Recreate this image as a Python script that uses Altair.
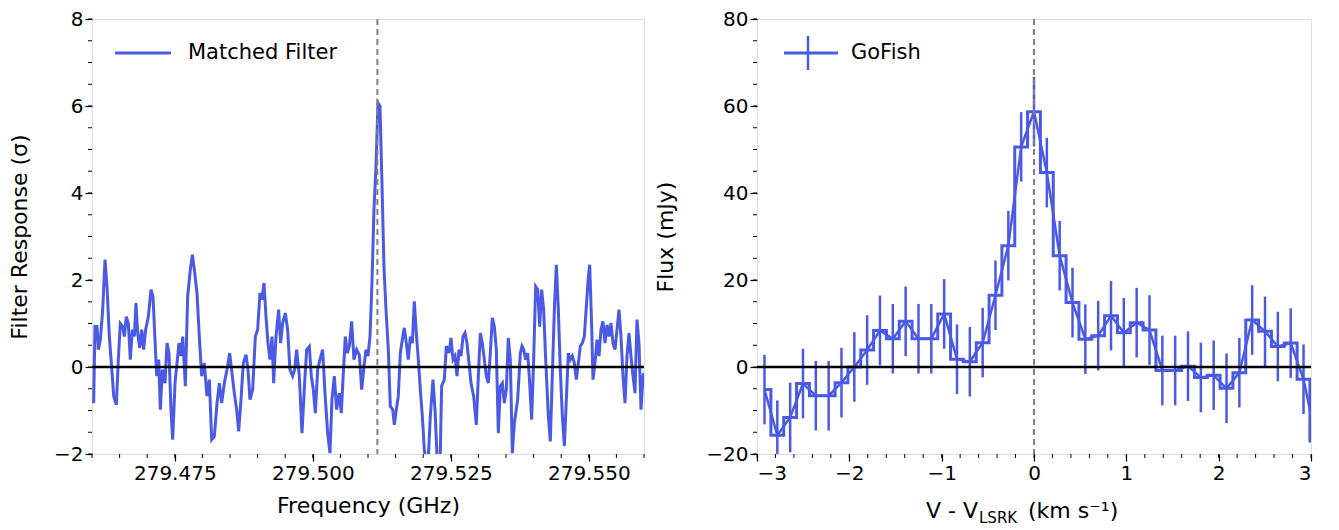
import altair as alt
import pandas as pd

BLUE = "#4a5ae4"
FONT = "DejaVu Sans"

# ---- left panel: matched filter response ----
FREQ_BASE = 279.46
FREQ_OFFSET = [
    0.00030, 0.00054, 0.00091, 0.00115, 0.00151, 0.00193, 0.00236, 0.00272, 0.00314, 0.00356,
    0.00393, 0.00441, 0.00477, 0.00513, 0.00556, 0.00586, 0.00622, 0.00658, 0.00694, 0.00731,
    0.00767, 0.00797, 0.00827, 0.00864, 0.00900, 0.00936, 0.00972, 0.01021, 0.01069, 0.01105,
    0.01141, 0.01172, 0.01208, 0.01238, 0.01274, 0.01322, 0.01359, 0.01395, 0.01431, 0.01461,
    0.01504, 0.01540, 0.01576, 0.01612, 0.01643, 0.01691, 0.01733, 0.01781, 0.01818, 0.01854,
    0.01902, 0.01944, 0.01987, 0.02035, 0.02083, 0.02126, 0.02168, 0.02216, 0.02265, 0.02307,
    0.02349, 0.02397, 0.02446, 0.02494,
    0.02578, 0.02621, 0.02657, 0.02699, 0.02741, 0.02790, 0.02826, 0.02862, 0.02911, 0.02959,
    0.03001, 0.03043, 0.03080, 0.03116, 0.03152, 0.03188, 0.03224, 0.03261, 0.03291, 0.03333,
    0.03381, 0.03417, 0.03454, 0.03502, 0.03544, 0.03586, 0.03635, 0.03671, 0.03707, 0.03756,
    0.03804, 0.03852, 0.03889, 0.03937, 0.03973, 0.04009, 0.04046, 0.04088, 0.04130, 0.04178,
    0.04221, 0.04269, 0.04311, 0.04347, 0.04390, 0.04432, 0.04480, 0.04516, 0.04553, 0.04589,
    0.04625, 0.04661, 0.04704, 0.04746, 0.04794, 0.04843, 0.04885, 0.04927, 0.04963, 0.05000,
    0.05036, 0.05072, 0.05108, 0.05144, 0.05181, 0.05217, 0.05253, 0.05289,
    0.05326, 0.05368, 0.05404, 0.05447, 0.05477, 0.05513, 0.05549, 0.05585, 0.05622, 0.05658,
    0.05694, 0.05730, 0.05767, 0.05803, 0.05839, 0.05875, 0.05912, 0.05948, 0.05984, 0.06020,
    0.06081, 0.06129, 0.06177, 0.06214, 0.06262, 0.06310, 0.06334, 0.06383, 0.06419, 0.06467,
    0.06504, 0.06540, 0.06576, 0.06612, 0.06648, 0.06685, 0.06721, 0.06757, 0.06793, 0.06830,
    0.06866, 0.06914, 0.06962, 0.06999, 0.07035, 0.07071, 0.07107, 0.07144, 0.07180, 0.07216,
    0.07252, 0.07289, 0.07325, 0.07361, 0.07397, 0.07434, 0.07470, 0.07506, 0.07542, 0.07578,
    0.07615, 0.07651, 0.07711, 0.07760,
    0.07790, 0.07820, 0.07856, 0.07893, 0.07929, 0.07965, 0.08001, 0.08037, 0.08074, 0.08110,
    0.08146, 0.08182, 0.08219, 0.08267, 0.08303, 0.08339, 0.08376, 0.08412, 0.08448, 0.08484,
    0.08521, 0.08557, 0.08593, 0.08629, 0.08666, 0.08702, 0.08738, 0.08774, 0.08810, 0.08847,
    0.08883, 0.08919, 0.08955, 0.08992, 0.09016, 0.09052, 0.09076, 0.09112, 0.09149, 0.09185,
    0.09221, 0.09257, 0.09294, 0.09330, 0.09366, 0.09402, 0.09438, 0.09475, 0.09511, 0.09547,
    0.09583, 0.09620, 0.09656, 0.09692, 0.09728, 0.09764, 0.09801, 0.09837, 0.09873, 0.09909,
    0.09946, 0.09982, 0.09998,
]
RESPONSE = [
    -0.83, 0.93, 0.93, 0.40, 0.63, 1.30, 2.47, 1.85, 0.70, 0.00,
    -0.67, -0.87, 0.17, 1.00, 0.93, 0.70, 1.16, 1.00, 0.17, 0.86,
    0.70, 1.47, 0.78, 0.44, 0.86, 0.40, 0.86, 1.16, 1.78, 1.62,
    0.63, -0.21, 0.17, -0.98, -0.06, -0.37, 0.55, 0.32, -0.98, -1.67,
    -0.37, 0.09, 0.55, 0.25, 0.70, -0.44, 1.62, 2.24, 2.58, 2.24,
    1.70, 0.70, -0.21, 0.09, -0.67, -0.29, -1.67, -1.60, -0.83, -0.37,
    -0.83, -0.37, -0.06, 0.32,
    -0.60, -0.98, -1.48, -0.75, 0.09, 0.28, -0.06, -0.75, -0.52, 0.70,
    0.86, 1.70, 1.55, 1.93, 1.16, 0.55, 0.17, 0.70, -0.37, 0.70,
    1.32, 0.55, 1.01, 1.24, 0.86, -0.06, -0.21, -0.06, 0.40, -0.21,
    -1.52, -0.37, 0.40, 0.47, -0.21, -0.52, -1.06, -0.06, 0.17, 0.40,
    -0.60, -1.52, -1.98, -0.75, -0.21, -0.98, -0.60, -1.06, -0.14, 0.70,
    0.32, 0.47, 1.05, 0.17, 0.40, 0.28, -0.52, 0.00, 0.40, 0.25,
    0.70, 1.93, 3.62, 4.60, 6.07, 5.99, 4.23, 2.31,
    1.32, 0.40, -0.90, -0.98, -1.33, -0.98, -0.67, 0.32, 0.63, 0.90,
    0.55, 0.17, 0.70, 0.55, 1.51, 0.78, 0.17, -0.52, -1.13, -1.90,
    -2.40, -1.13, -0.29, -0.98, -2.40, -1.98, -0.44, -0.29, 0.48, 0.32,
    0.67, 0.17, 0.25, -0.21, 0.40, 0.25, 0.70, 0.78, 0.55, 0.09,
    -0.37, -0.67, -1.33, -0.21, 0.78, 0.55, 0.17, -0.21, -0.37, 0.32,
    1.13, 0.93, 0.40, -1.52, -0.44, -0.37, -0.83, -0.52, 0.67, 0.17,
    -1.98, -1.29, -0.75, 0.32,
    0.48, 0.40, 0.17, 0.32, -0.37, -1.21, 0.17, 1.85, 1.78, 0.93,
    1.78, 1.32, 0.17, -1.13, -1.71, -0.21, 1.32, 2.35, 1.32, -0.06,
    -1.13, -1.82, -0.75, 0.32, 0.17, 0.25, 0.09, -0.29, 0.09, 0.48,
    0.55, 0.70, 1.39, 2.08, 2.35, 0.93, -0.29, 0.09, 0.63, 0.25,
    0.86, 1.05, 0.55, 0.97, 0.70, 1.01, 0.55, 0.40, 0.86, 1.32,
    0.70, -0.21, -0.83, 0.25, 0.78, 0.25, -0.21, -0.60, 1.09, 0.55,
    -0.98, -0.21, -0.14,
]
LINE_FREQ = 279.5117
FREQ_TICKS = [279.475, 279.500, 279.525, 279.550]
FREQ_MINOR = [round(279.46 + 0.005 * i, 3) for i in range(21)]
RESP_TICKS = [-2, 0, 2, 4, 6, 8]
RESP_MINOR = [-2 + 0.5 * i for i in range(21)]

# ---- right panel: GoFish spectrum ----
VELOCITY = [
    -2.919, -2.780, -2.641, -2.502, -2.363, -2.224, -2.085, -1.946, -1.807, -1.668,
    -1.529, -1.390, -1.251, -1.112, -0.973, -0.834, -0.695, -0.556, -0.417, -0.278,
    -0.139, 0.000, 0.139, 0.278, 0.417, 0.556, 0.695, 0.834, 0.973, 1.112,
    1.251, 1.390, 1.529, 1.668, 1.807, 1.946, 2.085, 2.224, 2.363, 2.502,
    2.641, 2.780, 2.919, 3.058,
]
FLUX = [
    -5.2, -15.7, -11.6, -3.8, -6.6, -6.6, -3.6, 0.0, 3.9, 8.4,
    6.5, 10.5, 6.5, 6.5, 12.2, 1.8, 1.2, 5.6, 16.5, 27.9,
    50.6, 58.7, 44.7, 25.6, 14.8, 6.4, 7.2, 11.8, 7.9, 10.2,
    8.5, -0.8, -0.8, 0.2, -2.4, -1.9, -4.9, -1.3, 10.8, 8.2,
    4.7, 5.5, -2.8, -17.0,
]
FLUX_ERR = [8.0] * len(FLUX)
VEL_TICKS = [-3, -2, -1, 0, 1, 2, 3]
VEL_MINOR = [round(-3 + 0.2 * i, 1) for i in range(31)]
FLUX_TICKS = [-20, 0, 20, 40, 60, 80]
FLUX_MINOR = [-20 + 5 * i for i in range(21)]

W1, W2, H = 552, 554, 435

left_df = pd.DataFrame({"freq": [FREQ_BASE + o for o in FREQ_OFFSET], "resp": RESPONSE})
right_df = pd.DataFrame({"v": VELOCITY, "flux": FLUX})
right_df["lo"] = right_df["flux"] - pd.Series(FLUX_ERR)
right_df["hi"] = right_df["flux"] + pd.Series(FLUX_ERR)

axis_style = dict(domain=False, tickColor="black", tickWidth=1.2, tickSize=7,
                  labelColor="black", labelFont=FONT, labelFontSize=20,
                  titleFont=FONT, titleFontSize=22, titleFontWeight="normal",
                  titleColor="black", grid=False)


def minor_ticks(xs, ys, xscale, yscale, w, h):
    # short outward ticks drawn at the minor positions through the panel's scales
    xt = alt.Chart(pd.DataFrame({"m": xs})).mark_rule(color="black", strokeWidth=1).encode(
        x=alt.X("m:Q", scale=xscale), y=alt.value(h), y2=alt.value(h + 4))
    yt = alt.Chart(pd.DataFrame({"m": ys})).mark_rule(color="black", strokeWidth=1).encode(
        y=alt.Y("m:Q", scale=yscale), x=alt.value(0), x2=alt.value(-4))
    return xt, yt


# left
fx = alt.Scale(domain=[279.46, 279.56], nice=False, zero=False)
fy = alt.Scale(domain=[-2, 8], nice=False, zero=False)
l_line = alt.Chart(left_df).mark_line(color=BLUE, strokeWidth=3, clip=True).encode(
    x=alt.X("freq:Q", scale=fx, title="Frequency (GHz)",
            axis=alt.Axis(values=FREQ_TICKS, format=".3f", titlePadding=12, **axis_style)),
    y=alt.Y("resp:Q", scale=fy, title="Filter Response (σ)",
            axis=alt.Axis(values=RESP_TICKS, titlePadding=22, **axis_style)),
)
l_zero = alt.Chart(pd.DataFrame({"y": [0]})).mark_rule(color="black", strokeWidth=2.5).encode(
    y=alt.Y("y:Q", scale=fy))
l_dash = alt.Chart(pd.DataFrame({"x": [LINE_FREQ]})).mark_rule(
    color="#808080", strokeWidth=2, strokeDash=[6, 4]).encode(x=alt.X("x:Q", scale=fx))
l_leg = alt.Chart(pd.DataFrame({"t": ["Matched Filter"]})).mark_rule(color=BLUE, strokeWidth=3).encode(
    x=alt.value(23), x2=alt.value(79), y=alt.value(34))
l_txt = alt.Chart(pd.DataFrame({"t": ["Matched Filter"]})).mark_text(
    align="left", baseline="middle", font=FONT, fontSize=21, color="black").encode(
    x=alt.value(96), y=alt.value(34), text="t:N")
l_mx, l_my = minor_ticks(FREQ_MINOR, RESP_MINOR, fx, fy, W1, H)
left = alt.layer(l_line, l_zero, l_dash, l_leg, l_txt, l_mx, l_my).properties(width=W1, height=H)

# right
vx = alt.Scale(domain=[-3, 3], nice=False, zero=False)
vy = alt.Scale(domain=[-20, 80], nice=False, zero=False)
r_step = alt.Chart(right_df).mark_line(color=BLUE, strokeWidth=3, interpolate="step", clip=True).encode(
    x=alt.X("v:Q", scale=vx, title=None, axis=alt.Axis(values=VEL_TICKS, format="d", **axis_style)),
    y=alt.Y("flux:Q", scale=vy, title="Flux (mJy)",
            axis=alt.Axis(values=FLUX_TICKS, titlePadding=28, **axis_style)),
)
r_line = alt.Chart(right_df).mark_line(color=BLUE, strokeWidth=2.5, clip=True).encode(
    x=alt.X("v:Q", scale=vx), y=alt.Y("flux:Q", scale=vy))
r_err = alt.Chart(right_df).mark_rule(color=BLUE, strokeWidth=2.5, clip=True).encode(
    x=alt.X("v:Q", scale=vx), y=alt.Y("lo:Q", scale=vy), y2="hi:Q")
r_zero = alt.Chart(pd.DataFrame({"y": [0]})).mark_rule(color="black", strokeWidth=2.5).encode(
    y=alt.Y("y:Q", scale=vy))
r_dash = alt.Chart(pd.DataFrame({"x": [0]})).mark_rule(
    color="#808080", strokeWidth=2, strokeDash=[6, 4]).encode(x=alt.X("x:Q", scale=vx))
r_leg = alt.Chart(pd.DataFrame({"t": ["GoFish"]})).mark_rule(color=BLUE, strokeWidth=3).encode(
    x=alt.value(27), x2=alt.value(81), y=alt.value(34))
r_legv = alt.Chart(pd.DataFrame({"t": ["GoFish"]})).mark_rule(color=BLUE, strokeWidth=2.5).encode(
    x=alt.value(51), y=alt.value(17), y2=alt.value(51))
r_txt = alt.Chart(pd.DataFrame({"t": ["GoFish"]})).mark_text(
    align="left", baseline="middle", font=FONT, fontSize=21, color="black").encode(
    x=alt.value(94), y=alt.value(34), text="t:N")
# x-axis title with subscript, drawn as text pieces
t_main = alt.Chart(pd.DataFrame({"t": ["V - V"]})).mark_text(
    align="right", baseline="alphabetic", font=FONT, fontSize=22, color="black").encode(
    x=alt.value(W2 / 2 - 56), y=alt.value(H + 64), text="t:N")
t_sub = alt.Chart(pd.DataFrame({"t": ["LSRK"]})).mark_text(
    align="left", baseline="alphabetic", font=FONT, fontSize=15, color="black").encode(
    x=alt.value(W2 / 2 - 55), y=alt.value(H + 69), text="t:N")
t_unit = alt.Chart(pd.DataFrame({"t": ["(km s⁻¹)"]})).mark_text(
    align="left", baseline="alphabetic", font=FONT, fontSize=22, color="black").encode(
    x=alt.value(W2 / 2 - 6), y=alt.value(H + 64), text="t:N")
r_mx, r_my = minor_ticks(VEL_MINOR, FLUX_MINOR, vx, vy, W2, H)
right = alt.layer(r_step, r_line, r_err, r_zero, r_dash, r_leg, r_legv, r_txt,
                  t_main, t_sub, t_unit, r_mx, r_my).properties(width=W2, height=H)

chart = alt.hconcat(left, right, spacing=8).configure_view(
    stroke="black", strokeWidth=1.2).configure(background="white", padding=0)

chart.save("out.html", embed_options={"renderer": "svg", "actions": False})
